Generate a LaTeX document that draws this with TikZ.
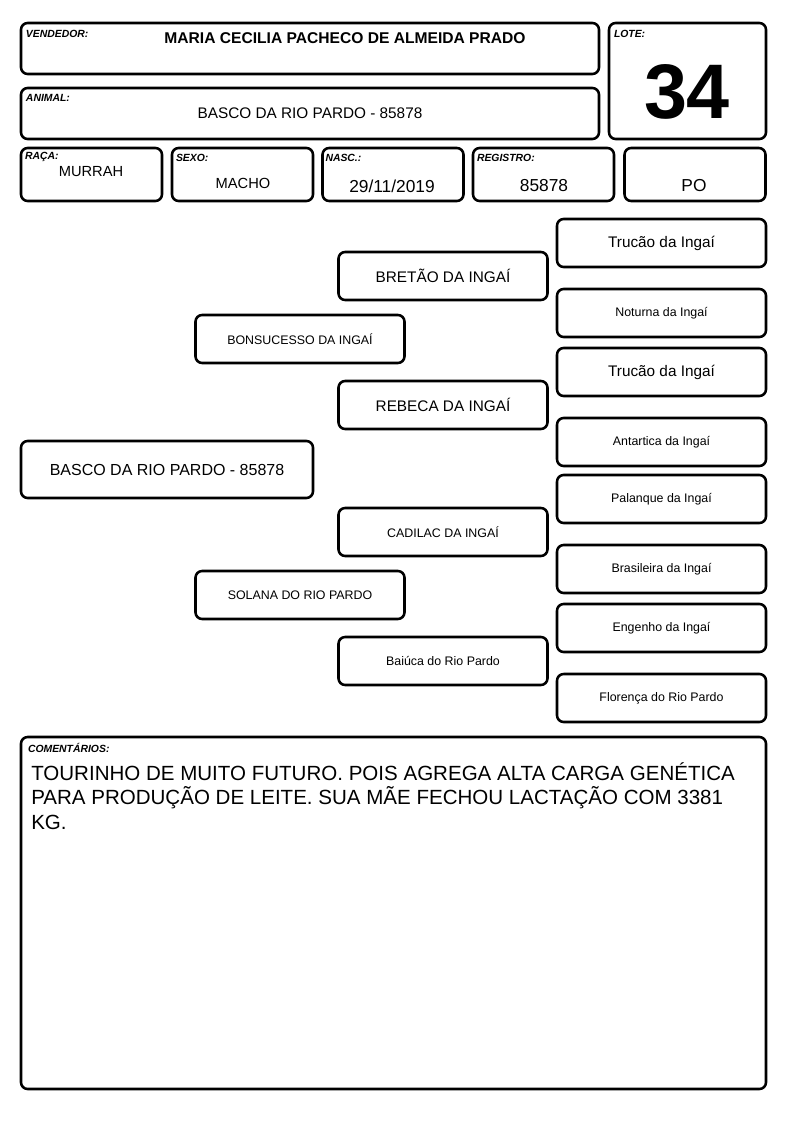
\documentclass[tikz,border=0pt]{standalone}
\usepackage{fontspec}
\setmainfont{Liberation Sans}
\usetikzlibrary{positioning}

\begin{document}
\begin{tikzpicture}[x=0.75pt, y=-0.75pt]
\tikzstyle{box}=[rectangle, draw=black, line width=1.9pt, rounded corners=5pt, inner sep=0pt]
\tikzstyle{head box}=[box, minimum width=433.5pt, minimum height=38.25pt]
\tikzstyle{info box}=[box, minimum width=105.75pt, minimum height=39.75pt]
\tikzstyle{pedigree box}=[box, minimum width=156.75pt, minimum height=36pt]
\tikzstyle{tag}=[anchor=north west, inner sep=0pt, font=\bfseries\itshape\fontsize{7.8}{9}\selectfont]
\tikzstyle{big name}=[font=\fontsize{11.5}{13}\selectfont]
\tikzstyle{small name}=[font=\fontsize{9.3}{11}\selectfont]

\useasboundingbox (0,0) rectangle (794,1123);

% Header
\node[head box] (vendedor) at (310, 48.5) {};
\node[head box] (animal) at (310, 113.5) {};
\node[box, minimum width=117.75pt, minimum height=87pt] (lote) at (687.5, 81) {};

\node[info box] (raca) at (91.5, 174.5) {};
\node[info box] (sexo) at (242.5, 174.5) {};
\node[info box] (nasc) at (393, 174.5) {};
\node[info box] (registro) at (543.5, 174.5) {};
\node[info box] (po) at (695, 174.5) {};

\node[tag] (vendedortag) at ([shift={(6,8)}]vendedor.north west) {VENDEDOR:};
\node[tag] (animaltag) at ([shift={(6,7)}]animal.north west) {ANIMAL:};
\node[tag] (lotetag) at ([shift={(6,8)}]lote.north west) {LOTE:};
\node[tag] (racatag) at ([shift={(5,5)}]raca.north west) {RAÇA:};
\node[tag] (sexotag) at ([shift={(5,7)}]sexo.north west) {SEXO:};
\node[tag] (nasctag) at ([shift={(4,7)}]nasc.north west) {NASC.:};
\node[tag] (registrotag) at ([shift={(5,7)}]registro.north west) {REGISTRO:};

\node[font=\bfseries\fontsize{11.7}{13}\selectfont] (vendedorname) at (345, 38) {MARIA CECILIA PACHECO DE ALMEIDA PRADO};
\node[big name] (animalname) at (310, 113) {BASCO DA RIO PARDO - 85878};
\node[font=\bfseries\fontsize{58}{58}\selectfont] (lotenum) at (687, 92) {34};
\node[font=\fontsize{11}{13}\selectfont] (racaval) at (91, 172) {MURRAH};
\node[font=\fontsize{11}{13}\selectfont] (sexoval) at (243, 183) {MACHO};
\node[font=\fontsize{13}{15}\selectfont] (nascval) at (392, 186) {29/11/2019};
\node[font=\fontsize{13}{15}\selectfont] (registroval) at (544, 186) {85878};
\node[font=\fontsize{13}{15}\selectfont] (poval) at (694, 186) {PO};

% Pedigree
\node[pedigree box, minimum width=219pt, minimum height=42.75pt, font=\fontsize{12}{14}\selectfont] (basco) at (167, 469.5) {BASCO DA RIO PARDO - 85878};

\node[pedigree box, small name] (bonsucesso) at (300, 339) {BONSUCESSO DA INGAÍ};
\node[pedigree box, small name] (solana) at (300, 595) {SOLANA DO RIO PARDO};

\node[pedigree box, big name] (bretao) at (443, 276) {BRETÃO DA INGAÍ};
\node[pedigree box, big name] (rebeca) at (443, 405) {REBECA DA INGAÍ};
\node[pedigree box, small name] (cadilac) at (443, 532) {CADILAC DA INGAÍ};
\node[pedigree box, small name] (baiuca) at (443, 661) {Baiúca do Rio Pardo};

\node[pedigree box, big name] (trucaoa) at (661.5, 243) {Trucão da Ingaí};
\node[pedigree box, small name] (noturna) at (661.5, 313) {Noturna da Ingaí};
\node[pedigree box, big name] (trucaob) at (661.5, 372) {Trucão da Ingaí};
\node[pedigree box, small name] (antartica) at (661.5, 442) {Antartica da Ingaí};
\node[pedigree box, small name] (palanque) at (661.5, 499) {Palanque da Ingaí};
\node[pedigree box, small name] (brasileira) at (661.5, 569) {Brasileira da Ingaí};
\node[pedigree box, small name] (engenho) at (661.5, 628) {Engenho da Ingaí};
\node[pedigree box, small name] (florenca) at (661.5, 698) {Florença do Rio Pardo};

% Comments
\node[box, minimum width=558.75pt, minimum height=264pt] (comentarios) at (393.5, 913) {};
\node[tag] (comentariostag) at ([shift={(8,7)}]comentarios.north west) {COMENTÁRIOS:};
\node[anchor=north west, inner sep=0pt, align=left, font=\fontsize{15.4}{18.4}\selectfont] (comentariostext) at (31, 762)
    {TOURINHO DE MUITO FUTURO. POIS AGREGA ALTA CARGA GENÉTICA\\
     PARA PRODUÇÃO DE LEITE. SUA MÃE FECHOU LACTAÇÃO COM 3381\\
     KG.};

\end{tikzpicture}
\end{document}
